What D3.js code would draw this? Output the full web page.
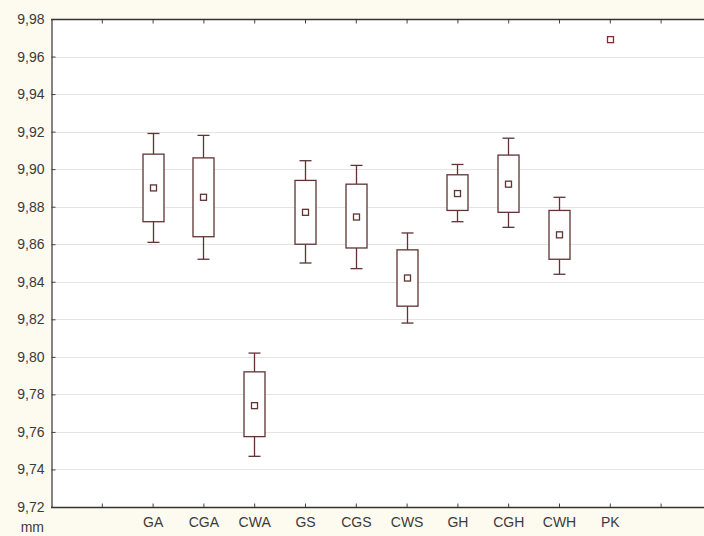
<!DOCTYPE html>
<html>
<head>
<meta charset="utf-8">
<script src="https://cdn.jsdelivr.net/npm/d3@7"></script>
<style>
  html, body { margin: 0; padding: 0; background: #fdfaf0; }
  svg { display: block; }
  text { font-family: "Liberation Sans", Arial, sans-serif; }
</style>
</head>
<body>
<svg id="chart" width="704" height="536"></svg>
<script>
const categories = ["GA", "CGA", "CWA", "GS", "CGS", "CWS", "GH", "CGH", "CWH", "PK"];
const whiskerLow  = [9.861, 9.852, 9.747, 9.850, 9.847, 9.818, 9.872, 9.869, 9.844, 9.969];
const boxLow      = [9.872, 9.864, 9.7575, 9.860, 9.858, 9.827, 9.878, 9.877, 9.852, 9.969];
const meanValue   = [9.890, 9.885, 9.774, 9.877, 9.8745, 9.842, 9.887, 9.892, 9.865, 9.969];
const boxHigh     = [9.908, 9.906, 9.792, 9.894, 9.892, 9.857, 9.897, 9.9075, 9.878, 9.969];
const whiskerHigh = [9.919, 9.918, 9.802, 9.9045, 9.902, 9.866, 9.9025, 9.9165, 9.885, 9.969];
const yTicks = [9.72, 9.74, 9.76, 9.78, 9.80, 9.82, 9.84, 9.86, 9.88, 9.90, 9.92, 9.94, 9.96, 9.98];
const slotTicks = [1, 2, 3, 4, 5, 6, 7, 8, 9, 10, 11, 12];

const svg = d3.select("#chart");
const mLeft = 51, mTop = 19, mBottom = 507, rightEdge = 711.4;

const x = d3.scaleLinear().domain([0, 13]).range([mLeft, rightEdge]);
const y = d3.scaleLinear().domain([9.72, 9.98]).range([mBottom, mTop]);
const fmt = v => d3.format(".2f")(v).replace(".", ",");

// plot area
svg.append("rect").attr("x", mLeft).attr("y", mTop)
  .attr("width", 704 - mLeft).attr("height", mBottom - mTop).attr("fill", "#ffffff");

// gridlines
svg.append("g").selectAll("line").data(yTicks.slice(1, -1)).join("line")
  .attr("x1", mLeft).attr("x2", 704)
  .attr("y1", d => Math.round(y(d)) + 0.5).attr("y2", d => Math.round(y(d)) + 0.5)
  .attr("stroke", "#e4e4e4").attr("stroke-width", 1.2);

// left axis
const yAxis = d3.axisLeft(y).tickValues(yTicks).tickFormat(fmt).tickSize(-4).tickPadding(7);
const gy = svg.append("g").attr("transform", `translate(${mLeft + 0.5},0)`).call(yAxis);
gy.select(".domain").attr("stroke", "#333").attr("stroke-width", 1.2);
gy.selectAll(".tick line").attr("stroke", "#444");
gy.selectAll(".tick text").attr("font-size", 14).attr("fill", "#3a3a3a").attr("x", -7);

// bottom axis
const xAxis = d3.axisBottom(x).tickValues(slotTicks).tickSize(-4)
  .tickFormat(d => categories[d - 2] || "").tickPadding(10);
const gx = svg.append("g").attr("transform", `translate(0,${mBottom + 0.5})`).call(xAxis);
gx.select(".domain").remove();
gx.append("line").attr("x1", mLeft).attr("x2", 704).attr("stroke", "#333").attr("stroke-width", 1.6);
gx.selectAll(".tick line").attr("stroke", "#444");
gx.selectAll(".tick text").attr("font-size", 14).attr("fill", "#3a3a3a");

// top axis
const xTop = d3.axisTop(x).tickValues(slotTicks).tickSize(-4).tickFormat("");
const gt = svg.append("g").attr("transform", `translate(0,${mTop + 0.5})`).call(xTop);
gt.select(".domain").remove();
gt.append("line").attr("x1", mLeft).attr("x2", 704).attr("stroke", "#333").attr("stroke-width", 1.6);
gt.selectAll(".tick line").attr("stroke", "#444");

// unit label
svg.append("text").attr("x", 44).attr("y", 532).attr("text-anchor", "end")
  .attr("font-size", 14).attr("fill", "#3a3a3a").text("mm");

// boxes
const color = "#5e3434";
const boxW = 21, capW = 12, mk = 6;
const data = categories.map((c, i) => ({
  c, cx: x(i + 2), wl: whiskerLow[i], bl: boxLow[i], m: meanValue[i], bh: boxHigh[i], wh: whiskerHigh[i]
}));
const g = svg.append("g");
data.forEach(d => {
  const cx = Math.round(d.cx) + 0.5;
  if (d.wh !== d.wl) {
    g.append("line").attr("x1", cx).attr("x2", cx).attr("y1", y(d.wh)).attr("y2", y(d.bh))
      .attr("stroke", color).attr("stroke-width", 1.3);
    g.append("line").attr("x1", cx).attr("x2", cx).attr("y1", y(d.bl)).attr("y2", y(d.wl))
      .attr("stroke", color).attr("stroke-width", 1.3);
    g.append("line").attr("x1", cx - capW / 2).attr("x2", cx + capW / 2).attr("y1", y(d.wh)).attr("y2", y(d.wh))
      .attr("stroke", color).attr("stroke-width", 1.3);
    g.append("line").attr("x1", cx - capW / 2).attr("x2", cx + capW / 2).attr("y1", y(d.wl)).attr("y2", y(d.wl))
      .attr("stroke", color).attr("stroke-width", 1.3);
    g.append("rect").attr("x", cx - boxW / 2).attr("y", y(d.bh))
      .attr("width", boxW).attr("height", y(d.bl) - y(d.bh))
      .attr("fill", "#ffffff").attr("stroke", color).attr("stroke-width", 1.3);
  }
  g.append("rect").attr("x", cx - mk / 2).attr("y", y(d.m) - mk / 2)
    .attr("width", mk).attr("height", mk)
    .attr("fill", "#ffffff").attr("stroke", d.wh === d.wl ? "#7a3030" : color).attr("stroke-width", 1.3);
});
</script>
</body>
</html>
